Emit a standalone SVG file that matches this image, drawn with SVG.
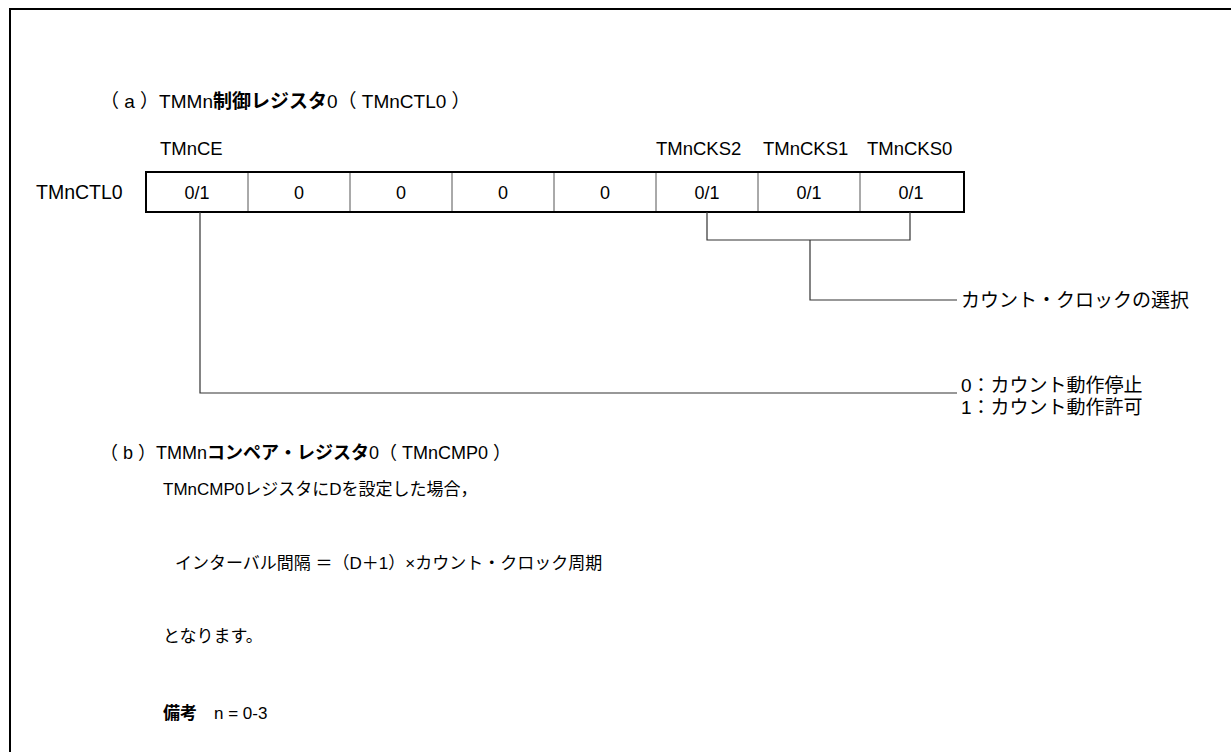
<svg xmlns="http://www.w3.org/2000/svg" width="1231" height="752" viewBox="0 0 1231 752">
<style>
text{font-family:"Liberation Sans","Noto Sans CJK JP",sans-serif;fill:#000;}
.t{font-size:19px;}
.p{font-size:17px;}
.l{font-size:18.5px;}
.d{font-size:19px;}
.c{font-size:18px;text-anchor:middle;}
.b{font-weight:bold;}
.cell{fill:none;stroke:#555;stroke-width:1;}
.con{fill:none;stroke:#333;stroke-width:1.2;}
</style>
<rect x="10" y="9" width="1240" height="770" fill="#fff" stroke="#000" stroke-width="2"/>
<g id="title-a"><text class="t" x="100" y="108" xml:space="preserve">（ a ）TMMn<tspan class="b">制御レジスタ</tspan>0（ TMnCTL0 ）</text></g>
<g id="bit-labels">
<text class="l" x="160" y="155">TMnCE</text>
<text class="l" x="656" y="155">TMnCKS2</text>
<text class="l" x="763" y="155">TMnCKS1</text>
<text class="l" x="867" y="155">TMnCKS0</text>
<text class="l" x="36" y="199" style="font-size:19.5px">TMnCTL0</text>
</g>
<g id="register">
<line class="cell" x1="248" y1="172" x2="248" y2="212"/>
<line class="cell" x1="350" y1="172" x2="350" y2="212"/>
<line class="cell" x1="452" y1="172" x2="452" y2="212"/>
<line class="cell" x1="554" y1="172" x2="554" y2="212"/>
<line class="cell" x1="656" y1="172" x2="656" y2="212"/>
<line class="cell" x1="758" y1="172" x2="758" y2="212"/>
<line class="cell" x1="860" y1="172" x2="860" y2="212"/>
<rect x="146" y="172" width="818" height="40" fill="none" stroke="#000" stroke-width="2"/>
<text class="c" x="197" y="199">0/1</text>
<text class="c" x="299" y="199">0</text>
<text class="c" x="401" y="199">0</text>
<text class="c" x="503" y="199">0</text>
<text class="c" x="605" y="199">0</text>
<text class="c" x="707" y="199">0/1</text>
<text class="c" x="809" y="199">0/1</text>
<text class="c" x="911" y="199">0/1</text>
</g>
<g id="connectors">
<polyline class="con" points="200,212 200,393 957,393"/>
<polyline class="con" points="707,212 707,240 910,240 910,212"/>
<polyline class="con" points="810,240 810,300 957,300"/>
</g>
<g id="desc">
<text class="d" x="961" y="307">カウント・クロックの選択</text>
<text class="d" x="961" y="392">0：カウント動作停止</text>
<text class="d" x="961" y="414">1：カウント動作許可</text>
</g>
<g id="section-b">
<text class="t" x="100" y="459" xml:space="preserve" style="font-size:18px">（ b ）TMMn<tspan class="b">コンペア・レジスタ</tspan>0（ TMnCMP0 ）</text>
<text class="p" x="163" y="495">TMnCMP0レジスタにDを設定した場合，</text>
<text class="p" x="175" y="569">インターバル間隔 ＝（D＋1）×カウント・クロック周期</text>
<text class="p" x="163" y="642">となります。</text>
<text class="p" x="163" y="719"><tspan class="b">備考</tspan>　n = 0-3</text>
</g>
</svg>
